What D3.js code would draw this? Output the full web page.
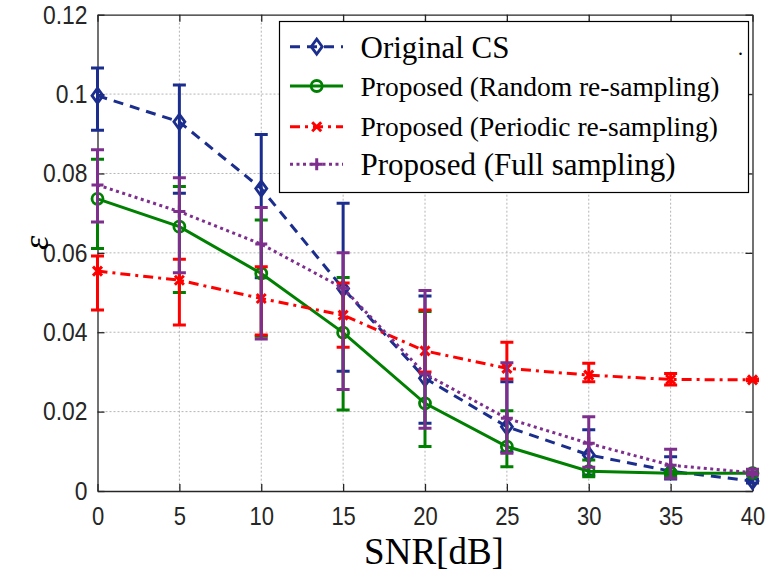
<!DOCTYPE html>
<html>
<head>
<meta charset="utf-8">
<script src="https://cdn.jsdelivr.net/npm/d3@7"></script>
<style>
  html, body { margin: 0; padding: 0; background: #fff; }
  svg { display: block; }
</style>
</head>
<body>
<svg id="chart" width="768" height="579"></svg>
<script>
// ---------- data ----------
const snr = [0, 5, 10, 15, 20, 25, 30, 35, 40];
const xTicks = [0, 5, 10, 15, 20, 25, 30, 35, 40];
const yTicks = [0, 0.02, 0.04, 0.06, 0.08, 0.1, 0.12];
const yTickLabels = ["0", "0.02", "0.04", "0.06", "0.08", "0.1", "0.12"];

const seriesNames = ["Original CS", "Proposed (Random re-sampling)", "Proposed (Periodic re-sampling)", "Proposed (Full sampling)"];

const origMean  = [0.0996, 0.0930, 0.0762, 0.0510, 0.0284, 0.0162, 0.0091, 0.0050, 0.0025];
const origUpper = [0.1066, 0.1023, 0.0898, 0.0725, 0.0491, 0.0275, 0.0154, 0.0086, 0.0030];
const origLower = [0.0909, 0.0750, 0.0537, 0.0302, 0.0171, 0.0099, 0.0040, 0.0030, 0.0020];

const randMean  = [0.0736, 0.0666, 0.0548, 0.0399, 0.0221, 0.0112, 0.0050, 0.0045, 0.0045];
const randUpper = [0.0836, 0.0767, 0.0683, 0.0538, 0.0452, 0.0202, 0.0078, 0.0050, 0.0048];
const randLower = [0.0611, 0.0500, 0.0390, 0.0204, 0.0112, 0.0061, 0.0036, 0.0038, 0.0042];

const perMean  = [0.0554, 0.0531, 0.0485, 0.0443, 0.0353, 0.0309, 0.0292, 0.0281, 0.0280];
const perUpper = [0.0592, 0.0584, 0.0565, 0.0524, 0.0456, 0.0375, 0.0322, 0.0296, 0.0282];
const perLower = [0.0456, 0.0418, 0.0393, 0.0362, 0.0300, 0.0282, 0.0275, 0.0267, 0.0278];

const fullMean  = [0.0771, 0.0704, 0.0622, 0.0511, 0.0295, 0.0183, 0.0120, 0.0065, 0.0046];
const fullUpper = [0.0860, 0.0789, 0.0714, 0.0600, 0.0505, 0.0323, 0.0187, 0.0105, 0.0055];
const fullLower = [0.0678, 0.0550, 0.0383, 0.0256, 0.0158, 0.0095, 0.0060, 0.0032, 0.0040];

// ---------- layout ----------
const svg = d3.select("#chart");
const L = 97.5, R = 752.5, T = 14.7, B = 491;
const x = d3.scaleLinear().domain([0, 40]).range([L, R]);
const y = d3.scaleLinear().domain([0, 0.12]).range([B, T]);
const axisColor = "#262626";
const sx = 0.88; // horizontal condensing of tick labels

const series = [
  { name: seriesNames[0], mean: origMean, up: origUpper, lo: origLower, color: "#1b2e8e", dash: "10,7", marker: "diamond" },
  { name: seriesNames[1], mean: randMean, up: randUpper, lo: randLower, color: "#008000", dash: null, marker: "circle" },
  { name: seriesNames[2], mean: perMean, up: perUpper, lo: perLower, color: "#ff0000", dash: "10,5,3,5", marker: "x" },
  { name: seriesNames[3], mean: fullMean, up: fullUpper, lo: fullLower, color: "#7e2f8e", dash: "3,3.5", marker: "plus" }
];

// grid
const grid = svg.append("g");
grid.selectAll("line.gx").data(xTicks.slice(1, -1)).enter().append("line")
  .attr("x1", d => x(d)).attr("x2", d => x(d)).attr("y1", T).attr("y2", B)
  .attr("stroke", "#b4b4b4").attr("stroke-width", 1).attr("stroke-dasharray", "2,2");
grid.selectAll("line.gy").data(yTicks.slice(1, -1)).enter().append("line")
  .attr("x1", L).attr("x2", R).attr("y1", d => y(d)).attr("y2", d => y(d))
  .attr("stroke", "#b4b4b4").attr("stroke-width", 1).attr("stroke-dasharray", "2,2");

// axes (inward ticks)
const xAxisB = d3.axisBottom(x).tickValues(xTicks).tickSizeInner(-7).tickSizeOuter(0).tickPadding(16).tickFormat(d3.format("d"));
const xAxisT = d3.axisTop(x).tickValues(xTicks).tickSizeInner(-7).tickSizeOuter(0).tickFormat("");
const yAxisL = d3.axisLeft(y).tickValues(yTicks).tickSizeInner(-7).tickSizeOuter(0).tickPadding(10).tickFormat((d, i) => yTickLabels[i]);
const yAxisR = d3.axisRight(y).tickValues(yTicks).tickSizeInner(-7).tickSizeOuter(0).tickFormat("");

function styleAxis(g, size) {
  g.select(".domain").attr("stroke", axisColor).attr("stroke-width", 1.3);
  g.selectAll(".tick line").attr("stroke", axisColor).attr("stroke-width", 1.3);
  g.selectAll(".tick text").attr("fill", axisColor).attr("font-family", "'Liberation Sans', Arial, sans-serif").attr("font-size", size)
    .each(function () {
      const t = d3.select(this);
      const xv = +t.attr("x") || 0;
      t.attr("x", xv / sx).attr("transform", `scale(${sx},1)`);
    });
}
svg.append("g").attr("transform", `translate(0,${B})`).call(xAxisB).call(styleAxis, 25);
svg.append("g").attr("transform", `translate(0,${T})`).call(xAxisT).call(styleAxis, 25);
svg.append("g").attr("transform", `translate(${L},0)`).call(yAxisL).call(styleAxis, 26);
svg.append("g").attr("transform", `translate(${R},0)`).call(yAxisR).call(styleAxis, 26);

// axis labels
svg.append("text").attr("x", 434).attr("y", 564).attr("text-anchor", "middle")
  .attr("font-family", "'Liberation Serif', 'Times New Roman', serif").attr("font-size", 37).attr("fill", "#000")
  .text("SNR[dB]");
svg.append("text").attr("transform", "translate(48,243) rotate(-90)").attr("text-anchor", "middle")
  .attr("font-family", "'Liberation Serif', 'Times New Roman', serif").attr("font-style", "italic").attr("font-size", 36).attr("fill", "#000")
  .text("ε");

// markers
function drawMarker(g, type, cx, cy, color) {
  if (type === "diamond") {
    g.append("path").attr("d", `M${cx},${cy - 7.5}L${cx + 5.5},${cy}L${cx},${cy + 7.5}L${cx - 5.5},${cy}Z`)
      .attr("fill", "none").attr("stroke", color).attr("stroke-width", 2.8);
  } else if (type === "circle") {
    g.append("circle").attr("cx", cx).attr("cy", cy).attr("r", 5.5)
      .attr("fill", "none").attr("stroke", color).attr("stroke-width", 2.8);
  } else if (type === "x") {
    const s = 4.5;
    g.append("path").attr("d", `M${cx - s},${cy - s}L${cx + s},${cy + s}M${cx - s},${cy + s}L${cx + s},${cy - s}`)
      .attr("stroke", color).attr("stroke-width", 3);
  } else if (type === "plus") {
    const s = 6;
    g.append("path").attr("d", `M${cx - s},${cy}L${cx + s},${cy}M${cx},${cy - s}L${cx},${cy + s}`)
      .attr("stroke", color).attr("stroke-width", 3);
  }
}

const plot = svg.append("g");
const line = d3.line().x((d, i) => x(snr[i])).y(d => y(d));
const cap = 6.5;
series.forEach(s => {
  const g = plot.append("g");
  g.append("path").attr("d", line(s.mean)).attr("fill", "none").attr("stroke", s.color)
    .attr("stroke-width", 3).attr("stroke-dasharray", s.dash).attr("stroke-linecap", "butt");
  snr.forEach((v, i) => {
    const cx = x(v), yu = y(s.up[i]), yl = y(s.lo[i]);
    g.append("path").attr("d", `M${cx},${yu}L${cx},${yl}M${cx - cap},${yu}L${cx + cap},${yu}M${cx - cap},${yl}L${cx + cap},${yl}`)
      .attr("fill", "none").attr("stroke", s.color).attr("stroke-width", 3);
  });
  snr.forEach((v, i) => drawMarker(g, s.marker, x(v), y(s.mean[i]), s.color));
});

// legend
const lg = svg.append("g");
lg.append("rect").attr("x", 279.5).attr("y", 21.5).attr("width", 469).attr("height", 171)
  .attr("fill", "#fff").attr("stroke", "#000").attr("stroke-width", 1.2);
const rowY = [46.7, 86, 126.7, 164.3];
const rowSize = [31, 27.5, 27.5, 31];
series.forEach((s, i) => {
  const ry = rowY[i];
  lg.append("line").attr("x1", 290).attr("x2", 343).attr("y1", ry).attr("y2", ry)
    .attr("stroke", s.color).attr("stroke-width", 3).attr("stroke-dasharray", s.dash);
  drawMarker(lg, s.marker, 316.7, ry, s.color);
  lg.append("text").attr("x", 360.5).attr("y", ry).attr("dy", "0.35em")
    .attr("font-family", "'Liberation Serif', 'Times New Roman', serif").attr("font-size", rowSize[i]).attr("fill", "#000")
    .text(s.name);
});
lg.append("text").attr("x", 738).attr("y", 55).attr("font-family", "'Liberation Serif', serif").attr("font-size", 20).attr("fill", "#000").text(".");
</script>
</body>
</html>
